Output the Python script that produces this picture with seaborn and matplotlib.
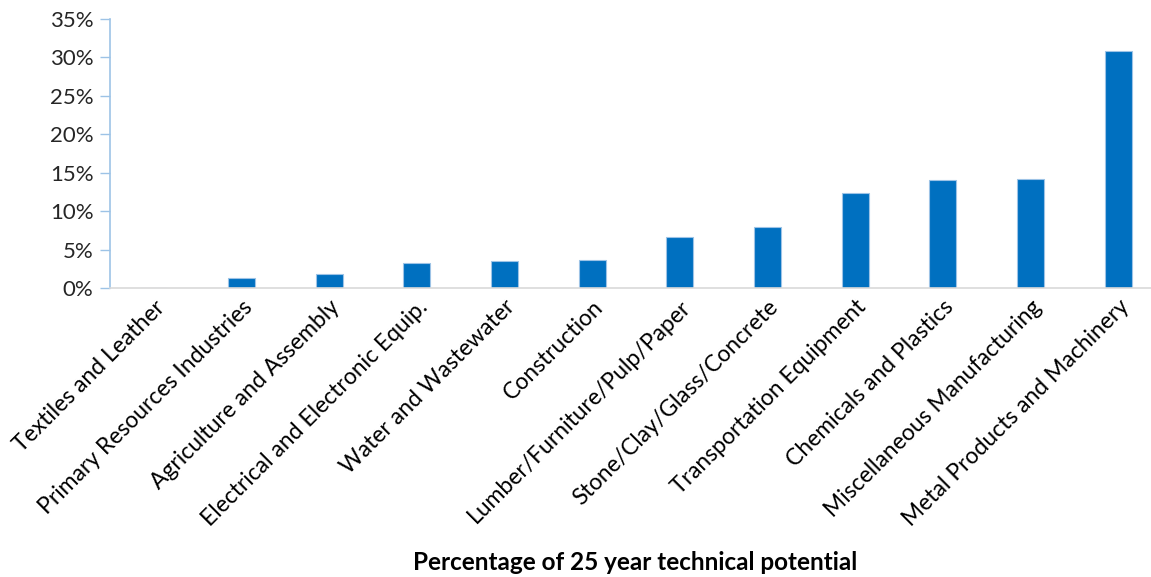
import matplotlib
matplotlib.use("Agg")
import matplotlib.pyplot as plt
import seaborn as sns
import pandas as pd
from matplotlib.ticker import PercentFormatter

sectors = [
    "Textiles and Leather",
    "Primary Resources Industries",
    "Agriculture and Assembly",
    "Electrical and Electronic Equip.",
    "Water and Wastewater",
    "Construction",
    "Lumber/Furniture/Pulp/Paper",
    "Stone/Clay/Glass/Concrete",
    "Transportation Equipment",
    "Chemicals and Plastics",
    "Miscellaneous Manufacturing",
    "Metal Products and Machinery",
]
share_pct = [0.0, 1.3, 1.8, 3.2, 3.55, 3.7, 6.7, 7.9, 12.4, 14.0, 14.2, 30.9]
y_ticks = [0, 5, 10, 15, 20, 25, 30, 35]
x_title = "Percentage of 25 year technical potential"

df = pd.DataFrame({"sector": sectors, "share": share_pct})

sns.set_style("white")
plt.rcParams["font.family"] = ["Lato", "DejaVu Sans"]

W, H = 1151, 577
fig = plt.figure(figsize=(W / 100, H / 100), dpi=100)
ax = fig.add_axes([110 / W, 1 - 288 / H, (1162 - 110) / W, (288 - 19) / H])

sns.barplot(data=df, x="sector", y="share", color="#0070C0", width=0.31,
            edgecolor="#9DC3E6", linewidth=0.8, saturation=1, ax=ax)

ax.set_xlim(-0.5, 11.5)
ax.set_ylim(0, 35)
ax.set_yticks(y_ticks)
ax.yaxis.set_major_formatter(PercentFormatter(decimals=0))
text_color = "#262626"
ax.tick_params(axis="y", length=7, width=1, color="#9DC3E6", direction="out",
               labelsize=16, labelcolor=text_color, pad=5, left=True)
ax.tick_params(axis="x", length=0, labelsize=16.5, labelcolor="#000000", pad=6)
plt.setp(ax.get_xticklabels(), rotation=45, ha="right", rotation_mode="anchor")

for side in ("top", "right"):
    ax.spines[side].set_visible(False)
ax.spines["left"].set_color("#9DC3E6")
ax.spines["left"].set_linewidth(1.2)
ax.spines["bottom"].set_color("#D9D9D9")
ax.spines["bottom"].set_linewidth(1.2)

ax.set_ylabel("")
ax.set_xlabel("")
fig.text(635 / W, 1 - 562 / H, x_title, ha="center", va="center",
         fontsize=17.5, fontweight="bold", color="#000000")

fig.savefig("out.png", dpi=100, facecolor="white")
